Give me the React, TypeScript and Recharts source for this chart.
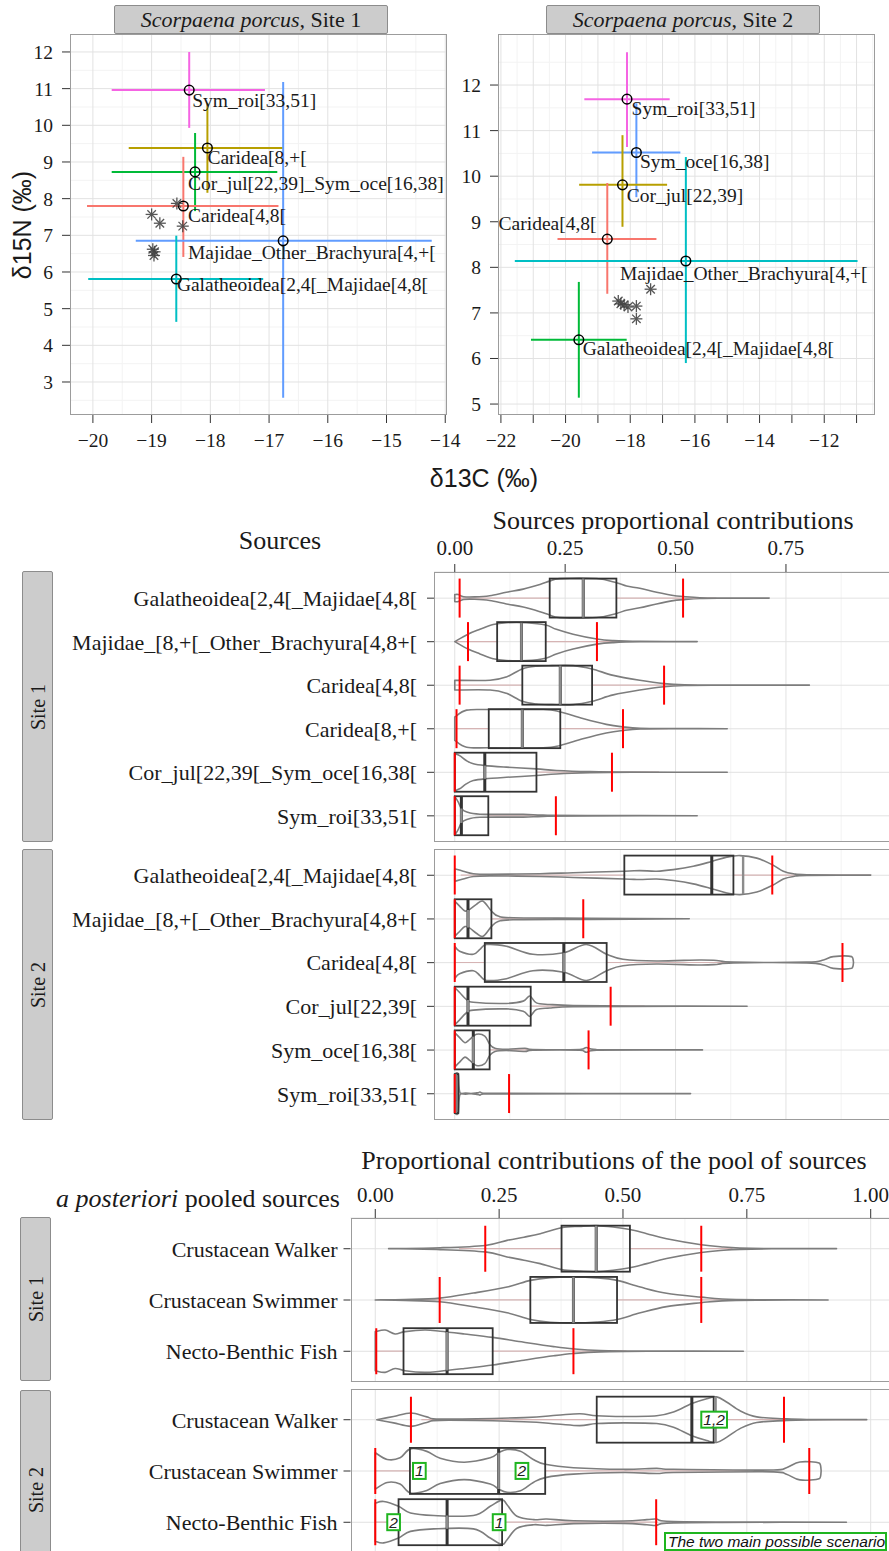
import React from "react";
import { ComposedChart, Scatter, ErrorBar, Bar, XAxis, YAxis, CartesianGrid } from "recharts";

const SERIF = '"Liberation Serif", "Times New Roman", Times, serif';
const SANS = '"Liberation Sans", Arial, Helvetica, sans-serif';
const INK = "#1a1a1a";
const GRID_MAJOR = "#e2e2e2";
const GRID_MINOR = "#f3f3f3";
const BORDER = "#9c9c9c";

// ---------- isotopic biplots: sources mean +/- range, consumers as asterisks
const biplotSources1 = ["Sym_roi[33,51]", "Caridea[8,+[", "Cor_jul[22,39]_Sym_oce[16,38]", "Caridea[4,8[", "Majidae_Other_Brachyura[4,+[", "Galatheoidea[2,4[_Majidae[4,8["];
const d13C1 = [-18.36, -18.05, -18.26, -18.46, -16.76, -18.58];
const d13CLim1 = [[-19.68, -17.07], [-19.39, -16.76], [-19.68, -16.86], [-20.1, -16.84], [-19.27, -14.23], [-20.08, -17.1]];
const d15N1 = [10.96, 9.38, 8.73, 7.8, 6.85, 5.81];
const d15NLim1 = [[9.93, 12.0], [8.16, 10.6], [7.66, 9.79], [6.41, 9.14], [2.57, 11.18], [4.64, 6.99]];
const labelAt1 = [[-18.31, 10.49], [-18.05, 8.95], [-18.38, 8.24], [-18.38, 7.37], [-18.38, 6.35], [-18.57, 5.47]];
const fishC1 = [-19.0, -18.86, -18.57, -18.47, -18.98, -18.96, -18.95];
const fishN1 = [7.57, 7.33, 7.87, 7.25, 6.62, 6.45, 6.55];

const biplotSources2 = ["Sym_roi[33,51]", "Sym_oce[16,38]", "Cor_jul[22,39]", "Caridea[4,8[", "Majidae_Other_Brachyura[4,+[", "Galatheoidea[2,4[_Majidae[4,8["];
const d13C2 = [-18.1, -17.81, -18.24, -18.71, -16.28, -19.59];
const d13CLim2 = [[-19.42, -16.78], [-19.18, -16.45], [-19.58, -16.86], [-20.25, -17.19], [-21.57, -10.97], [-21.07, -18.11]];
const d15N2 = [11.69, 10.52, 9.81, 8.62, 8.14, 6.41];
const d15NLim2 = [[10.64, 12.72], [9.54, 11.6], [8.89, 10.9], [7.42, 9.85], [5.9, 10.42], [5.14, 7.68]];
const labelAt2 = [[-17.96, 11.34], [-17.7, 10.18], [-18.11, 9.44], [-19.04, 8.82], [-18.32, 7.72], [-19.47, 6.08]];
const labelAnchor2 = ["start", "start", "start", "end", "start", "start"];
const fishC2 = [-18.37, -18.29, -18.19, -18.07, -17.81, -17.81, -17.37];
const fishN2 = [7.26, 7.2, 7.18, 7.13, 7.15, 6.87, 7.52];

const colors1 = ["#F564E3", "#B79F00", "#00BA38", "#F8766D", "#619CFF", "#00BFC4"];
const colors2 = ["#F564E3", "#619CFF", "#B79F00", "#F8766D", "#00BFC4", "#00BA38"];

// ---------- sources proportional contributions (violin + box + 95% CI)
const sourcesSite1 = ["Galatheoidea[2,4[_Majidae[4,8[", "Majidae_[8,+[_Other_Brachyura[4,8+[", "Caridea[4,8[", "Caridea[8,+[", "Cor_jul[22,39[_Sym_oce[16,38[", "Sym_roi[33,51["];
const rangeSite1 = [[0, 0.712], [0, 0.549], [0, 0.803], [0, 0.617], [0, 0.617], [0, 0.549]];
const boxSite1 = [[0.215, 0.291, 0.366], [0.096, 0.151, 0.206], [0.153, 0.239, 0.311], [0.077, 0.153, 0.239], [0, 0.068, 0.185], [0, 0.015, 0.076]];
const ciSite1 = [[0.011, 0.517], [0.03, 0.322], [0.011, 0.474], [0.004, 0.381], [0, 0.356], [0, 0.229]];
const densitySite1 = [
  [[0, 0.18], [0.008, 0.18], [0.02, 0.07], [0.045, 0.06], [0.079, 0.12], [0.117, 0.3], [0.155, 0.46], [0.193, 0.7], [0.215, 0.87], [0.238, 1], [0.321, 1], [0.366, 0.79], [0.389, 0.62], [0.419, 0.5], [0.457, 0.3], [0.495, 0.13], [0.517, 0.08], [0.555, 0.02], [0.608, 0.005], [0.712, 0]],
  [[0, 0], [0.03, 0.38], [0.057, 0.63], [0.087, 0.88], [0.117, 0.97], [0.162, 0.97], [0.206, 0.85], [0.23, 0.63], [0.268, 0.38], [0.322, 0.13], [0.359, 0.05], [0.42, 0.01], [0.549, 0]],
  [[0, 0.25], [0.08, 0.25], [0.117, 0.42], [0.153, 0.83], [0.185, 0.97], [0.22, 1], [0.268, 1], [0.311, 0.83], [0.359, 0.5], [0.419, 0.25], [0.474, 0.08], [0.52, 0.02], [0.6, 0.005], [0.803, 0]],
  [[0, 0.6], [0.027, 0.95], [0.08, 0.98], [0.2, 0.98], [0.239, 0.86], [0.29, 0.52], [0.343, 0.22], [0.381, 0.09], [0.42, 0.02], [0.5, 0.005], [0.617, 0]],
  [[0, 0.95], [0.011, 0.85], [0.026, 0.6], [0.042, 0.43], [0.068, 0.34], [0.117, 0.26], [0.185, 0.17], [0.23, 0.09], [0.306, 0.03], [0.4, 0.005], [0.617, 0]],
  [[0, 1], [0.008, 0.7], [0.015, 0.37], [0.026, 0.2], [0.057, 0.08], [0.155, 0.07], [0.2, 0.03], [0.3, 0.01], [0.549, 0]],
];

const sourcesSite2 = ["Galatheoidea[2,4[_Majidae[4,8[", "Majidae_[8,+[_Other_Brachyura[4,8+[", "Caridea[4,8[", "Cor_jul[22,39[", "Sym_oce[16,38[", "Sym_roi[33,51["];
const rangeSite2 = [[0, 0.942], [0, 0.531], [0, 0.903], [0, 0.662], [0, 0.561], [0, 0.534]];
const boxSite2 = [[0.384, 0.582, 0.631], [0, 0.03, 0.083], [0.068, 0.247, 0.344], [0, 0.03, 0.172], [0, 0.042, 0.079], [0, 0.002, 0.008]];
const ciSite2 = [[0, 0.719], [0, 0.291], [0, 0.878], [0, 0.353], [0, 0.303], [0, 0.123]];
const violinMedianSite2 = [0.653, 0.03, 0.247, 0.03, 0.042, 0.002];
const densitySite2 = [
  [[0, 0.32], [0.019, 0.2], [0.042, 0.07], [0.079, 0.04], [0.193, 0.07], [0.268, 0.12], [0.384, 0.2], [0.419, 0.23], [0.457, 0.2], [0.495, 0.28], [0.54, 0.45], [0.582, 0.7], [0.616, 0.92], [0.646, 1], [0.684, 0.87], [0.719, 0.53], [0.744, 0.2], [0.767, 0.07], [0.797, 0.02], [0.942, 0]],
  [[0, 0.9], [0.011, 0.65], [0.023, 0.4], [0.034, 0.48], [0.049, 0.74], [0.064, 0.9], [0.083, 0.4], [0.098, 0.14], [0.132, 0.05], [0.306, 0.03], [0.531, 0]],
  [[0, 0.83], [0.011, 0.58], [0.042, 0.42], [0.057, 0.67], [0.072, 0.92], [0.117, 0.83], [0.177, 0.42], [0.247, 0.5], [0.298, 0.92], [0.344, 0.42], [0.381, 0.17], [0.457, 0.08], [0.555, 0.13], [0.593, 0.1], [0.631, 0.02], [0.797, 0.02], [0.835, 0.13], [0.857, 0.3], [0.899, 0.3], [0.903, 0]],
  [[0, 0.95], [0.011, 0.7], [0.026, 0.35], [0.042, 0.2], [0.117, 0.14], [0.155, 0.26], [0.17, 0.52], [0.185, 0.17], [0.215, 0.09], [0.268, 0.03], [0.4, 0.01], [0.662, 0]],
  [[0, 0.88], [0.011, 0.63], [0.023, 0.37], [0.034, 0.54], [0.049, 0.8], [0.068, 0.71], [0.079, 0.29], [0.091, 0.08], [0.117, 0.03], [0.159, 0.08], [0.177, 0.02], [0.283, 0.02], [0.298, 0.12], [0.321, 0.02], [0.561, 0]],
  [[0, 1], [0.008, 1], [0.012, 0.04], [0.05, 0.04], [0.057, 0.08], [0.065, 0.02], [0.534, 0]],
];

// ---------- a posteriori pooled sources
const pooledSources = ["Crustacean Walker", "Crustacean Swimmer", "Necto-Benthic Fish"];
const rangePool1 = [[0.027, 0.931], [0, 0.914], [0, 0.743]];
const boxPool1 = [[0.376, 0.446, 0.514], [0.313, 0.4, 0.488], [0.057, 0.145, 0.237]];
const ciPool1 = [[0.222, 0.658], [0.13, 0.658], [0.002, 0.4]];
const densityPool1 = [
  [[0.027, 0], [0.131, 0.04], [0.222, 0.14], [0.266, 0.36], [0.3, 0.5], [0.333, 0.65], [0.376, 0.91], [0.413, 0.97], [0.447, 1], [0.48, 0.94], [0.514, 0.83], [0.548, 0.65], [0.588, 0.43], [0.658, 0.17], [0.703, 0.07], [0.736, 0.03], [0.8, 0.005], [0.931, 0]],
  [[0, 0], [0.06, 0.02], [0.13, 0.08], [0.198, 0.3], [0.266, 0.56], [0.313, 0.85], [0.353, 0.97], [0.4, 1], [0.447, 0.96], [0.488, 0.85], [0.535, 0.56], [0.588, 0.29], [0.658, 0.12], [0.7, 0.04], [0.77, 0.01], [0.914, 0]],
  [[0, 0.85], [0.02, 0.92], [0.04, 0.75], [0.06, 0.85], [0.1, 0.92], [0.131, 0.87], [0.18, 0.75], [0.237, 0.6], [0.3, 0.39], [0.36, 0.2], [0.4, 0.1], [0.454, 0.03], [0.55, 0.005], [0.743, 0]],
];

const rangePool2 = [[0.003, 0.992], [0, 0.9], [0, 0.951]];
const boxPool2 = [[0.447, 0.639, 0.683], [0.07, 0.249, 0.343], [0.047, 0.145, 0.256]];
const ciPool2 = [[0.072, 0.825], [0, 0.876], [0, 0.567]];
const violinMedianPool2 = [0.687, 0.249, 0.145];
const densityPool2 = [
  [[0.003, 0], [0.037, 0.14], [0.072, 0.29], [0.104, 0.12], [0.131, 0.03], [0.3, 0.09], [0.366, 0.19], [0.413, 0.26], [0.447, 0.17], [0.501, 0.14], [0.568, 0.17], [0.602, 0.33], [0.639, 0.7], [0.669, 0.91], [0.689, 0.99], [0.709, 0.77], [0.737, 0.38], [0.77, 0.12], [0.825, 0.04], [0.871, 0.01], [0.992, 0]],
  [[0, 0.79], [0.024, 0.5], [0.05, 0.57], [0.071, 0.96], [0.104, 0.85], [0.131, 0.55], [0.18, 0.38], [0.232, 0.57], [0.249, 0.79], [0.266, 0.93], [0.293, 0.86], [0.319, 0.5], [0.343, 0.29], [0.4, 0.14], [0.501, 0.07], [0.568, 0.11], [0.602, 0.07], [0.804, 0.04], [0.83, 0.14], [0.857, 0.39], [0.897, 0.33], [0.9, 0]],
  [[0, 0.83], [0.017, 0.9], [0.047, 0.69], [0.071, 0.4], [0.118, 0.29], [0.198, 0.29], [0.232, 0.69], [0.256, 0.97], [0.266, 0.76], [0.286, 0.26], [0.32, 0.11], [0.346, 0.14], [0.4, 0.06], [0.501, 0.05], [0.548, 0.11], [0.567, 0.14], [0.588, 0.04], [0.7, 0.01], [0.951, 0]],
];
// the two main possible scenarios (1 and 2), per pooled source at site 2
const scenarioNotes2 = [[[0.684, "1,2"]], [[0.089, "1"], [0.296, "2"]], [[0.037, "2"], [0.25, "1"]]];

const fmtNeg = (v: number) => (v < 0 ? "\u2212" + Math.abs(v) : String(v));

function buildBiplot(sources: string[], c: number[], cLim: number[][], n: number[], nLim: number[][]) {
  return sources.map((s, i) => ({
    name: s,
    x: c[i],
    y: n[i],
    ex: [c[i] - cLim[i][0], cLim[i][1] - c[i]],
    ey: [n[i] - nLim[i][0], nLim[i][1] - n[i]],
  }));
}

const Ring = (p: any) => <circle cx={p.cx} cy={p.cy} r={4.8} fill="none" stroke="#000" strokeWidth={1.5} />;

const Asterisk = (p: any) => {
  const r = 6;
  const d = r * 0.707;
  return (
    <g stroke="#444" strokeWidth={1.3} opacity={0.9}>
      <line x1={p.cx - r} y1={p.cy} x2={p.cx + r} y2={p.cy} />
      <line x1={p.cx} y1={p.cy - r} x2={p.cx} y2={p.cy + r} />
      <line x1={p.cx - d} y1={p.cy - d} x2={p.cx + d} y2={p.cy + d} />
      <line x1={p.cx - d} y1={p.cy + d} x2={p.cx + d} y2={p.cy - d} />
    </g>
  );
};

const SourceLabel = (p: any) => (
  <text x={p.cx} y={p.cy} textAnchor={p.payload.anchor} fontSize={19.5} fontFamily={SERIF} fill={INK}>
    {p.payload.text}
  </text>
);

function BiplotPanel(props: any) {
  const { rows, colors, labels, fish, width, right, yWidth, xDomain, yDomain, xTicks, yTicks, xMinor, yMinor, xFmt } = props;
  const tickStyle = { fontSize: 19.5, fill: INK, fontFamily: SERIF };
  return (
    <ComposedChart width={width} height={460} margin={{ top: 34, right, bottom: 0, left: 0 }}>
      <CartesianGrid verticalValues={xMinor} horizontalValues={yMinor} stroke={GRID_MINOR} />
      <CartesianGrid verticalValues={xTicks} horizontalValues={yTicks} stroke={GRID_MAJOR} />
      <XAxis type="number" dataKey="x" domain={xDomain} ticks={xTicks} allowDataOverflow interval={0} tickFormatter={xFmt} height={45} tickSize={8} tickMargin={10} axisLine={false} tickLine={{ stroke: "#333" }} tick={tickStyle} />
      <YAxis type="number" dataKey="y" domain={yDomain} ticks={yTicks} allowDataOverflow interval={0} width={yWidth} tickSize={8} tickMargin={9} axisLine={false} tickLine={{ stroke: "#333" }} tick={tickStyle} />
      {rows.map((r: any, i: number) => (
        <Scatter key={r.name} data={[r]} shape={Ring} isAnimationActive={false}>
          <ErrorBar direction="x" dataKey="ex" width={0} stroke={colors[i]} strokeWidth={2} isAnimationActive={false} />
          <ErrorBar direction="y" dataKey="ey" width={0} stroke={colors[i]} strokeWidth={2} isAnimationActive={false} />
        </Scatter>
      ))}
      <Scatter data={fish} shape={Asterisk} isAnimationActive={false} />
      <Scatter data={labels} shape={SourceLabel} isAnimationActive={false} />
    </ComposedChart>
  );
}

// smooth open curve through points (Catmull-Rom), x of control points clamped
function curve(pts: number[][]) {
  let d = "";
  for (let i = 0; i < pts.length - 1; i++) {
    const p0 = pts[i - 1] || pts[i];
    const p1 = pts[i];
    const p2 = pts[i + 1];
    const p3 = pts[i + 2] || p2;
    const lo = Math.min(p1[0], p2[0]);
    const hi = Math.max(p1[0], p2[0]);
    const cl = (v: number) => Math.max(lo, Math.min(hi, v));
    const c1x = cl(p1[0] + (p2[0] - p0[0]) / 6);
    const c1y = p1[1] + (p2[1] - p0[1]) / 6;
    const c2x = cl(p2[0] - (p3[0] - p1[0]) / 6);
    const c2y = p2[1] - (p3[1] - p1[1]) / 6;
    d += ` C${c1x},${c1y} ${c2x},${c2y} ${p2[0]},${p2[1]}`;
  }
  return d;
}

function widthAt(dens: number[][], v: number) {
  for (let i = 0; i < dens.length - 1; i++) {
    const [a, wa] = dens[i];
    const [b, wb] = dens[i + 1];
    if (v >= a && v <= b) return b === a ? wa : wa + ((v - a) / (b - a)) * (wb - wa);
  }
  return 0;
}

const ViolinShape = (props: any) => {
  const { x, y, width, height, payload } = props;
  const [lo, hi] = payload.range;
  const px = (v: number) => x + ((v - lo) / (hi - lo)) * width;
  const cy = y + height / 2;
  const half = height / 2;
  const dens: number[][] = payload.density;
  const upper = dens.map(([v, w]) => [px(v), cy - w * half]);
  const lower = dens.map(([v, w]) => [px(v), cy + w * half]).reverse();
  const path = `M${upper[0][0]},${upper[0][1]}` + curve(upper) + ` L${lower[0][0]},${lower[0][1]}` + curve(lower) + " Z";
  const [q1, med, q3] = payload.box;
  const iqr = q3 - q1;
  const wLo = Math.max(lo, q1 - 1.5 * iqr);
  const wHi = Math.min(hi, q3 + 1.5 * iqr);
  const vw = widthAt(dens, payload.vmed) * half;
  return (
    <g>
      <line x1={px(wLo)} y1={cy} x2={px(q1)} y2={cy} stroke="#d6b4b4" strokeWidth={1.2} />
      <line x1={px(q3)} y1={cy} x2={px(wHi)} y2={cy} stroke="#d6b4b4" strokeWidth={1.2} />
      <path d={path} fill="none" stroke="#7d7d7d" strokeWidth={1.6} strokeLinejoin="round" />
      <rect x={px(q1)} y={y} width={Math.max(px(q3) - px(q1), 1)} height={height} fill="none" stroke="#333" strokeWidth={1.8} />
      <line x1={px(med)} y1={y} x2={px(med)} y2={y + height} stroke="#333" strokeWidth={3} />
      {vw > 0.5 && <line x1={px(payload.vmed)} y1={cy - vw} x2={px(payload.vmed)} y2={cy + vw} stroke="#8c8c8c" strokeWidth={2.4} />}
      {payload.ci.map((v: number, k: number) => (
        <line key={k} x1={px(v)} y1={y} x2={px(v)} y2={y + height} stroke="#ff0000" strokeWidth={2} />
      ))}
      {payload.notes.map(([v, t]: [number, string], k: number) => {
        const w = t.replace(/,/g, "").length * 8.7 + (t.split(",").length - 1) * 4.3 + 4;
        return (
          <g key={"n" + k}>
            <rect x={px(v) - w / 2} y={cy - 8} width={w} height={16} fill="#fff" stroke="#1fb51f" strokeWidth={2} />
            <text x={px(v)} y={cy + 5.5} textAnchor="middle" fontSize={15.5} fontStyle="italic" fontFamily={SANS} fill="#222">
              {t}
            </text>
          </g>
        );
      })}
    </g>
  );
};

function buildViolins(names: string[], range: number[][], box: number[][], ci: number[][], density: number[][][], vmed?: number[], notes?: any[]) {
  return names.map((n, i) => ({
    name: n,
    range: range[i],
    box: box[i],
    ci: ci[i],
    density: density[i],
    vmed: vmed ? vmed[i] : box[i][1],
    notes: notes ? notes[i] : [],
  }));
}

function ViolinPanel(props: any) {
  const { rows, height, yWidth, domain, withAxis, axisHeight, axisTickSize, axisTickMargin, majors, minors, pad, labelGap } = props;
  const tickStyle = { fontSize: 21, fill: INK, fontFamily: SERIF };
  const catStyle = { fontSize: 22, fill: INK, fontFamily: SERIF };
  return (
    <ComposedChart layout="vertical" width={900} height={height} data={rows} margin={{ top: 0, right: 900 - 891.5, bottom: 0, left: 0 }} barCategoryGap="5%">
      <CartesianGrid horizontal={false} verticalValues={minors} stroke={GRID_MINOR} />
      <CartesianGrid verticalValues={majors} stroke={GRID_MAJOR} />
      {withAxis ? (
        <XAxis type="number" orientation="top" domain={domain} allowDataOverflow ticks={majors} interval={0} tickFormatter={(v: number) => v.toFixed(2)} height={axisHeight} tickSize={axisTickSize} tickMargin={axisTickMargin} axisLine={false} tickLine={{ stroke: "#333" }} tick={tickStyle} />
      ) : (
        <XAxis type="number" hide domain={domain} allowDataOverflow />
      )}
      <YAxis type="category" dataKey="name" width={yWidth} padding={{ top: pad, bottom: pad }} interval={0} tickSize={7} tickMargin={labelGap} axisLine={false} tickLine={{ stroke: "#333" }} tick={catStyle} />
      <Bar dataKey="range" shape={(p: any) => <ViolinShape {...p} />} isAnimationActive={false} />
    </ComposedChart>
  );
}

const abs = (left: number, top: number, extra: any = {}) => ({ position: "absolute" as const, left, top, ...extra });

function Centered({ x, y, size, family = SERIF, rotate = 0, children, style = {} }: any) {
  return (
    <div style={abs(x, y, { transform: `translate(-50%, -50%) rotate(${rotate}deg)`, fontSize: size, fontFamily: family, color: INK, whiteSpace: "nowrap", lineHeight: 1, ...style })}>
      {children}
    </div>
  );
}

function Strip({ left, top, width, height, vertical, size = 20, children }: any) {
  return (
    <div style={abs(left, top, { width, height, boxSizing: "border-box", background: "#cccccc", border: "1.5px solid #8c8c8c", borderRadius: 2 })}>
      <div style={{ position: "absolute", left: "50%", top: "50%", transform: `translate(-50%, -50%) rotate(${vertical ? -90 : 0}deg)`, fontSize: size, fontFamily: SERIF, color: INK, whiteSpace: "nowrap", lineHeight: 1 }}>
        {children}
      </div>
    </div>
  );
}

function PanelBorder({ left, top, width, height }: any) {
  return <div style={abs(left, top, { width, height, boxSizing: "border-box", border: `1.3px solid ${BORDER}`, pointerEvents: "none" })} />;
}

export default function App() {
  const bi1 = buildBiplot(biplotSources1, d13C1, d13CLim1, d15N1, d15NLim1);
  const bi2 = buildBiplot(biplotSources2, d13C2, d13CLim2, d15N2, d15NLim2);
  const lab1 = biplotSources1.map((s, i) => ({ text: s, x: labelAt1[i][0], y: labelAt1[i][1], anchor: "start" }));
  const lab2 = biplotSources2.map((s, i) => ({ text: s, x: labelAt2[i][0], y: labelAt2[i][1], anchor: labelAnchor2[i] }));
  const fish1 = fishC1.map((c, i) => ({ x: c, y: fishN1[i] }));
  const fish2 = fishC2.map((c, i) => ({ x: c, y: fishN2[i] }));

  const site1 = buildViolins(sourcesSite1, rangeSite1, boxSite1, ciSite1, densitySite1);
  const site2 = buildViolins(sourcesSite2, rangeSite2, boxSite2, ciSite2, densitySite2, violinMedianSite2);
  const pool1 = buildViolins(pooledSources, rangePool1, boxPool1, ciPool1, densityPool1);
  const pool2 = buildViolins(pooledSources, rangePool2, boxPool2, ciPool2, densityPool2, violinMedianPool2, scenarioNotes2);

  const midDomain = [-0.047, 0.989];
  const midMajors = [0, 0.25, 0.5, 0.75];
  const midMinors = [0.125, 0.375, 0.625, 0.875];
  const poolDomain = [-0.05, 1.042];
  const poolMajors = [0, 0.25, 0.5, 0.75, 1];

  return (
    <div style={{ position: "absolute", left: 0, top: 0, width: 889, height: 1551, overflow: "hidden", background: "#fff", fontFamily: SERIF }}>
      {/* isotopic biplots */}
      <Strip left={114} top={5} width={274} height={29} size={22}>
        <i>Scorpaena porcus,</i> Site 1
      </Strip>
      <Strip left={546} top={5} width={274} height={29} size={22}>
        <i>Scorpaena porcus</i>, Site 2
      </Strip>
      <div style={abs(0, 0)}>
        <BiplotPanel rows={bi1} colors={colors1} labels={lab1} fish={fish1} width={475} right={28} yWidth={70} xDomain={[-20.39, -13.97]} yDomain={[2.1, 12.49]} xTicks={[-20, -19, -18, -17, -16, -15, -14]} yTicks={[3, 4, 5, 6, 7, 8, 9, 10, 11, 12]} xMinor={[-19.5, -18.5, -17.5, -16.5, -15.5, -14.5]} yMinor={[2.5, 3.5, 4.5, 5.5, 6.5, 7.5, 8.5, 9.5, 10.5, 11.5]} xFmt={fmtNeg} />
      </div>
      <div style={abs(440, 0)}>
        <BiplotPanel rows={bi2} colors={colors2} labels={lab2} fish={fish2} width={443} right={8} yWidth={58} xDomain={[-22.09, -10.43]} yDomain={[4.76, 13.12]} xTicks={[-22, -21, -20, -19, -18, -17, -16, -15, -14, -13, -12, -11]} yTicks={[5, 6, 7, 8, 9, 10, 11, 12]} xMinor={[-21.5, -20.5, -19.5, -18.5, -17.5, -16.5, -15.5, -14.5, -13.5, -12.5, -11.5, -10.5]} yMinor={[5.5, 6.5, 7.5, 8.5, 9.5, 10.5, 11.5, 12.5]} xFmt={(v: number) => (v % 2 === 0 ? fmtNeg(v) : "")} />
      </div>
      <PanelBorder left={70} top={34} width={377} height={381} />
      <PanelBorder left={498} top={34} width={377} height={381} />
      <Centered x={22} y={225} size={25} family={SANS} rotate={-90}>δ15N (‰)</Centered>
      <Centered x={484} y={478} size={25} family={SANS}>δ13C (‰)</Centered>

      {/* sources proportional contributions */}
      <Centered x={280} y={541} size={26}>Sources</Centered>
      <Centered x={673} y={521} size={26}>Sources proportional contributions</Centered>
      <div style={abs(0, 500)}>
        <ViolinPanel rows={site1} height={342} yWidth={434} domain={midDomain} withAxis axisHeight={72} axisTickSize={8} axisTickMargin={9} majors={midMajors} minors={midMinors} pad={4.4} labelGap={10} />
      </div>
      <div style={abs(0, 849)}>
        <ViolinPanel rows={site2} height={271} yWidth={434} domain={midDomain} withAxis={false} majors={midMajors} minors={midMinors} pad={4.4} labelGap={10} />
      </div>
      <PanelBorder left={434} top={572} width={470} height={270} />
      <PanelBorder left={434} top={849} width={470} height={271} />
      <Strip left={22} top={571} width={31} height={271} vertical>Site 1</Strip>
      <Strip left={22} top={849} width={31} height={271} vertical>Site 2</Strip>

      {/* a posteriori pooled sources */}
      <Centered x={614} y={1161} size={26}>Proportional contributions of the pool of sources</Centered>
      <Centered x={198} y={1199} size={26}>
        <i>a posteriori</i> pooled sources
      </Centered>
      <div style={abs(0, 1140)}>
        <ViolinPanel rows={pool1} height={242} yWidth={350.5} domain={poolDomain} withAxis axisHeight={78} axisTickSize={9} axisTickMargin={7} majors={poolMajors} minors={midMinors} pad={5.1} labelGap={6} />
      </div>
      <div style={abs(0, 1389)}>
        <ViolinPanel rows={pool2} height={164} yWidth={350.5} domain={poolDomain} withAxis={false} majors={poolMajors} minors={midMinors} pad={5.1} labelGap={6} />
      </div>
      <PanelBorder left={350.5} top={1218} width={560} height={164} />
      <PanelBorder left={350.5} top={1389} width={560} height={200} />
      <Strip left={20} top={1217} width={31} height={164} vertical>Site 1</Strip>
      <Strip left={20} top={1390} width={31} height={200} vertical>Site 2</Strip>
      <div style={abs(664, 1532, { width: 223, height: 19, boxSizing: "border-box", border: "2px solid #1fb51f", background: "#fff", fontFamily: SANS, fontStyle: "italic", fontSize: 15.5, lineHeight: "15px", paddingLeft: 2, color: "#111", whiteSpace: "nowrap" })}>
        The two main possible scenario
      </div>
    </div>
  );
}
